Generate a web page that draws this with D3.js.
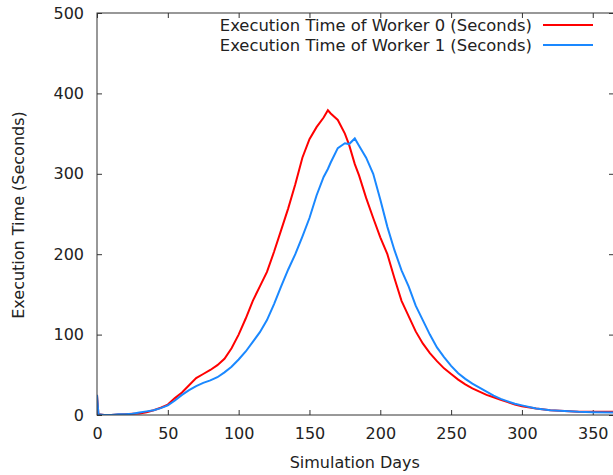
<!DOCTYPE html>
<html>
<head>
<meta charset="utf-8">
<script src="https://cdn.jsdelivr.net/npm/d3@7"></script>
<style>
  body { margin: 0; background: #fff; }
  text { font-family: "DejaVu Sans", sans-serif; fill: #222; }
</style>
</head>
<body>
<div id="chart"></div>
<script>
// Datos
const dias = [0, 1, 5, 10, 15, 20, 25, 30, 35, 40, 45, 50, 55, 60, 65, 70, 75, 80, 85, 90, 95, 100,
  105, 110, 115, 120, 125, 130, 135, 140, 145, 150, 155, 160, 163, 165, 170, 175, 178, 182, 185,
  190, 195, 200, 205, 210, 215, 220, 225, 230, 235, 240, 245, 250, 255, 260, 265, 270, 275, 280,
  285, 290, 295, 300, 310, 320, 330, 340, 350, 365]
const worker0 = [25, 1, 0, 0, 0.5, 1, 1.5, 2, 3.5, 6, 9, 13, 21, 28, 37, 46, 51, 56, 62, 70, 83, 100,
  120, 142, 160, 178, 203, 230, 257, 287, 320, 343, 358, 370, 379, 375, 367, 350, 336, 312, 298,
  270, 245, 221, 200, 170, 142, 123, 104, 89, 77, 67, 58, 51, 44, 38, 33, 29, 25, 22,
  19, 16, 13, 11, 8, 6, 5, 4, 4, 4]
const worker1 = [25, 1, 0, 0, 1, 1, 1.5, 3, 4.5, 6, 8.5, 12, 18, 25, 31, 36, 40, 43, 47, 53, 60, 69,
  79, 91, 103, 118, 138, 160, 181, 200, 222, 245, 273, 296, 306, 314, 332, 338, 337, 344, 335,
  320, 300, 268, 234, 205, 180, 160, 136, 118, 100, 84, 72, 61, 52, 45, 39, 34, 29, 24,
  20, 17, 14, 12, 8, 6, 5, 4, 3.5, 3]
const series = [
  {name: "Execution Time of Worker 0 (Seconds)", values: worker0, color: "#ff0000"},
  {name: "Execution Time of Worker 1 (Seconds)", values: worker1, color: "#1a88ff"}
]
const xTicks = [0, 50, 100, 150, 200, 250, 300, 350]
const yTicks = [0, 100, 200, 300, 400, 500]

//Constantes
const width = 613
const height = 475
const margin = {top: 13, bottom: 60, left: 97, right: -1}
const innerW = width - margin.left - margin.right
const innerH = height - margin.top - margin.bottom
const tickLen = 5

//svg
const svg = d3.select("#chart")
    .append("svg")
    .attr("width", width)
    .attr("height", height)

const g = svg.append("g")
    .attr("transform", `translate(${margin.left}, ${margin.top})`)

//Escalas
const x = d3.scaleLinear().domain([0, 365]).range([0, innerW])
const y = d3.scaleLinear().domain([0, 500]).range([innerH, 0])

//Ejes (ticks hacia dentro, estilo gnuplot)
const xAxisB = d3.axisBottom(x).tickValues(xTicks).tickSize(-tickLen).tickPadding(13)
const xAxisT = d3.axisTop(x).tickValues(xTicks).tickSize(-tickLen).tickFormat("")
const yAxisL = d3.axisLeft(y).tickValues(yTicks).tickSize(-tickLen).tickPadding(13)
const yAxisR = d3.axisRight(y).tickValues(yTicks).tickSize(-tickLen).tickFormat("")

function estilo(sel) {
    sel.select(".domain").remove()
    sel.selectAll(".tick line").attr("stroke", "#333")
    sel.selectAll(".tick text").style("font-size", "16px").attr("fill", "#222")
}
g.append("g").attr("transform", `translate(0, ${innerH})`).call(xAxisB).call(estilo)
g.append("g").call(xAxisT).call(estilo)
g.append("g").call(yAxisL).call(estilo)
g.append("g").attr("transform", `translate(${innerW}, 0)`).call(yAxisR).call(estilo)

// clip
svg.append("defs").append("clipPath").attr("id", "clip")
    .append("rect").attr("width", innerW).attr("height", innerH)

const line = d3.line()
    .x((d, i) => x(dias[i]))
    .y(d => y(d))

g.append("g").attr("clip-path", "url(#clip)")
    .selectAll("path")
    .data(series)
    .enter()
    .append("path")
    .attr("fill", "none")
    .attr("stroke", d => d.color)
    .attr("stroke-width", 2)
    .attr("d", d => line(d.values))

// marco
g.append("rect")
    .attr("width", innerW)
    .attr("height", innerH)
    .attr("fill", "none")
    .attr("stroke", "#333")
    .attr("stroke-width", 1)

// etiquetas
svg.append("text")
    .attr("x", margin.left + x(182))
    .attr("y", 468)
    .attr("text-anchor", "middle")
    .style("font-size", "16px")
    .text("Simulation Days")

svg.append("text")
    .attr("transform", "translate(24, 215) rotate(-90)")
    .attr("text-anchor", "middle")
    .style("font-size", "16px")
    .text("Execution Time (Seconds)")

// leyenda
const leyenda = svg.append("g")
    .selectAll("g")
    .data(series)
    .enter()
    .append("g")
    .attr("transform", (d, i) => `translate(0, ${25 + i * 20})`)

leyenda.append("text")
    .attr("x", 532)
    .attr("dy", "0.35em")
    .attr("text-anchor", "end")
    .style("font-size", "16.4px")
    .text(d => d.name)

leyenda.append("line")
    .attr("x1", 543)
    .attr("x2", 593)
    .attr("stroke", d => d.color)
    .attr("stroke-width", 2)
</script>
</body>
</html>
